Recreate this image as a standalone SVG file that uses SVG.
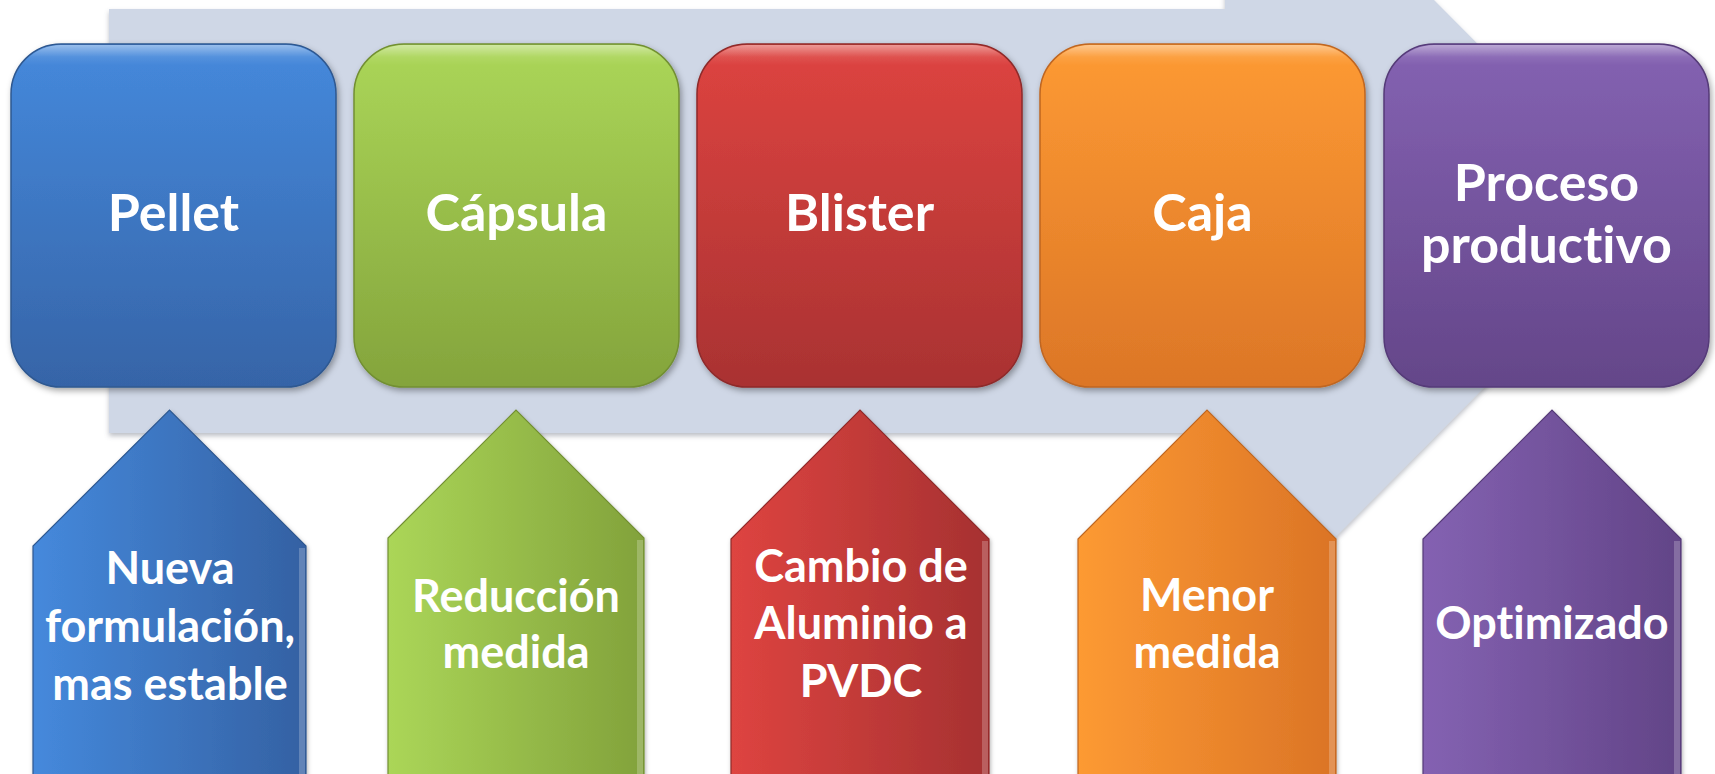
<svg xmlns="http://www.w3.org/2000/svg" width="1715" height="774" viewBox="0 0 1715 774">
<style>
.lbl{font-family:Lato,"Open Sans","Liberation Sans",sans-serif;font-weight:bold;fill:#ffffff;text-anchor:middle;font-variant-ligatures:none;font-feature-settings:"liga" 0,"clig" 0,"dlig" 0}
.top{font-size:52px}
.bot{font-size:45px}
.box{stroke-width:1.5;filter:url(#sh)}
.pent{stroke-width:1.2;filter:url(#sh2)}
.hl{fill:url(#hl);stroke:none}
.bev{fill:#ffffff;fill-opacity:0.22;stroke:none}
</style>
<defs>
<filter id="sh" x="-10%" y="-10%" width="125%" height="125%">
<feDropShadow dx="2" dy="3" stdDeviation="3" flood-color="#000" flood-opacity="0.35"/>
</filter>
<filter id="sh2" x="-10%" y="-10%" width="125%" height="125%">
<feDropShadow dx="1" dy="2" stdDeviation="2" flood-color="#000" flood-opacity="0.3"/>
</filter>
<filter id="sh3" x="-5%" y="-5%" width="110%" height="115%">
<feDropShadow dx="0" dy="3" stdDeviation="2.5" flood-color="#6b7280" flood-opacity="0.45"/>
</filter>
<linearGradient id="hl" x1="0" y1="0" x2="0" y2="1">
<stop offset="0" stop-color="#fff" stop-opacity="0.45"/>
<stop offset="0.035" stop-color="#fff" stop-opacity="0.08"/>
<stop offset="0.06" stop-color="#fff" stop-opacity="0"/>
</linearGradient>
<linearGradient id="vB" x1="0" y1="0" x2="0" y2="1"><stop offset="0" stop-color="#4589DC"/><stop offset="1" stop-color="#3664A7"/></linearGradient>
<linearGradient id="vG" x1="0" y1="0" x2="0" y2="1"><stop offset="0" stop-color="#ABD658"/><stop offset="1" stop-color="#84A43C"/></linearGradient>
<linearGradient id="vR" x1="0" y1="0" x2="0" y2="1"><stop offset="0" stop-color="#DE4440"/><stop offset="1" stop-color="#A93232"/></linearGradient>
<linearGradient id="vO" x1="0" y1="0" x2="0" y2="1"><stop offset="0" stop-color="#FD9A33"/><stop offset="1" stop-color="#DC7627"/></linearGradient>
<linearGradient id="vP" x1="0" y1="0" x2="0" y2="1"><stop offset="0" stop-color="#8462B2"/><stop offset="1" stop-color="#644689"/></linearGradient>
<linearGradient id="hB" x1="0" y1="0" x2="1" y2="0"><stop offset="0" stop-color="#4589DC"/><stop offset="1" stop-color="#3461A3"/></linearGradient>
<linearGradient id="hG" x1="0" y1="0" x2="1" y2="0"><stop offset="0" stop-color="#ABD658"/><stop offset="1" stop-color="#82A23B"/></linearGradient>
<linearGradient id="hR" x1="0" y1="0" x2="1" y2="0"><stop offset="0" stop-color="#DE4440"/><stop offset="1" stop-color="#A63131"/></linearGradient>
<linearGradient id="hO" x1="0" y1="0" x2="1" y2="0"><stop offset="0" stop-color="#FD9A33"/><stop offset="1" stop-color="#DB7426"/></linearGradient>
<linearGradient id="hP" x1="0" y1="0" x2="1" y2="0"><stop offset="0" stop-color="#8462B2"/><stop offset="1" stop-color="#624487"/></linearGradient>
</defs>
<rect width="1715" height="774" fill="#ffffff"/>
<g id="backdrop">
<path d="M109,9 L1225,9 L1225,-210 L1652,219 L1225,648 L1225,433 L109,433 Z" fill="#CFD7E6" filter="url(#sh3)"/>
</g>
<g id="node-pellet">
<rect class="box" x="11" y="44" width="325" height="343" rx="50" fill="url(#vB)" stroke="#2F5890"/>
<rect class="hl" x="12" y="45" width="323" height="341" rx="49"/>
<text class="lbl top" x="173.5" y="231">Pellet</text>
</g>
<g id="node-capsula">
<rect class="box" x="354" y="44" width="325" height="343" rx="50" fill="url(#vG)" stroke="#728F33"/>
<rect class="hl" x="355" y="45" width="323" height="341" rx="49"/>
<text class="lbl top" x="516.5" y="231">Cápsula</text>
</g>
<g id="node-blister">
<rect class="box" x="697" y="44" width="325" height="343" rx="50" fill="url(#vR)" stroke="#8E2A2A"/>
<rect class="hl" x="698" y="45" width="323" height="341" rx="49"/>
<text class="lbl top" x="859.5" y="231">Blister</text>
</g>
<g id="node-caja">
<rect class="box" x="1040" y="44" width="325" height="343" rx="50" fill="url(#vO)" stroke="#BF6620"/>
<rect class="hl" x="1041" y="45" width="323" height="341" rx="49"/>
<text class="lbl top" x="1202.5" y="231">Caja</text>
</g>
<g id="node-proceso">
<rect class="box" x="1384" y="44" width="325" height="343" rx="50" fill="url(#vP)" stroke="#553B78"/>
<rect class="hl" x="1385" y="45" width="323" height="341" rx="49"/>
<text class="lbl top" x="1546.5" y="201">Proceso</text>
<text class="lbl top" x="1546.5" y="263">productivo</text>
</g>
<g id="node-nueva">
<polygon class="pent" points="33,790 33,546 169.5,410 306,546 306,790" fill="url(#hB)" stroke="#2F5890"/>
<polygon class="bev" points="299,548 305,548 305,790 299,790"/>
<text class="lbl bot" x="170" y="584">Nueva</text>
<text class="lbl bot" x="170" y="642">formulación,</text>
<text class="lbl bot" x="170" y="700">mas estable</text>
</g>
<g id="node-reduccion">
<polygon class="pent" points="388,790 388,538 516,410 644,538 644,790" fill="url(#hG)" stroke="#728F33"/>
<polygon class="bev" points="637,540 643,540 643,790 637,790"/>
<text class="lbl bot" x="516" y="612">Reducción</text>
<text class="lbl bot" x="516" y="668">medida</text>
</g>
<g id="node-cambio">
<polygon class="pent" points="731,790 731,539 860,410 989,539 989,790" fill="url(#hR)" stroke="#8E2A2A"/>
<polygon class="bev" points="982,541 988,541 988,790 982,790"/>
<text class="lbl bot" x="861" y="582">Cambio de</text>
<text class="lbl bot" x="861" y="639">Aluminio a</text>
<text class="lbl bot" x="861" y="697">PVDC</text>
</g>
<g id="node-menor">
<polygon class="pent" points="1078,790 1078,539 1207,410 1336,539 1336,790" fill="url(#hO)" stroke="#BF6620"/>
<polygon class="bev" points="1329,541 1335,541 1335,790 1329,790"/>
<text class="lbl bot" x="1207" y="611">Menor</text>
<text class="lbl bot" x="1207" y="668">medida</text>
</g>
<g id="node-optimizado">
<polygon class="pent" points="1423,790 1423,539 1552,410 1681,539 1681,790" fill="url(#hP)" stroke="#553B78"/>
<polygon class="bev" points="1674,541 1680,541 1680,790 1674,790"/>
<text class="lbl bot" x="1552" y="639">Optimizado</text>
</g>
</svg>
